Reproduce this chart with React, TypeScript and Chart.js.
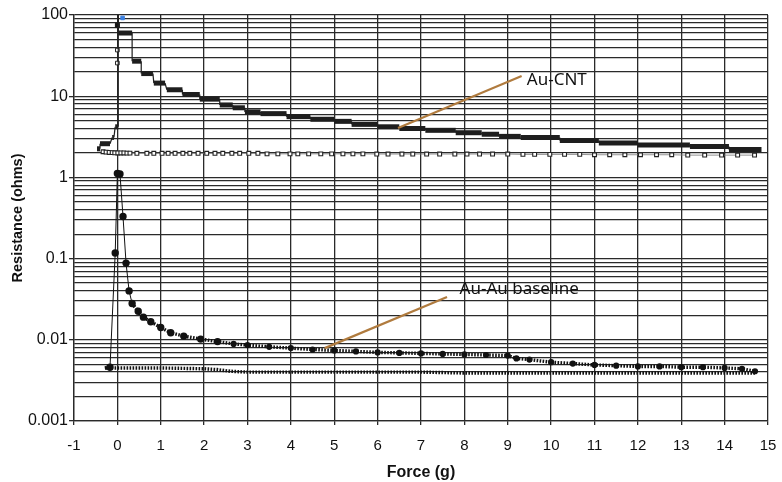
import React, { useEffect, useRef } from 'react';
import { Chart, registerables } from 'chart.js';

Chart.register(...registerables);

// ---------- axes ----------
const xMin = -1;
const xMax = 15;
const yMajorTicks = [0.001, 0.01, 0.1, 1, 10, 100];
const yMinorFactors = [2, 3, 4, 5, 6, 7, 8, 9];

// ---------- Au-CNT loading curve (plateaus: start force, end force, resistance) ----------
const cntStepStart = [-0.47, -0.40, -0.12, -0.05, 0.02, 0.02, 0.34, 0.55, 0.84, 1.14, 1.50, 1.90, 2.36, 2.66, 2.94, 3.30, 3.90, 4.45, 5.00, 5.40, 6.00, 6.50, 7.10, 7.80, 8.40, 8.80, 9.30, 10.20, 11.10, 12.00, 13.20, 14.10];
const cntStepEnd = [-0.40, -0.17, -0.08, 0.02, 0.02, 0.34, 0.55, 0.82, 1.10, 1.50, 1.90, 2.36, 2.66, 2.94, 3.30, 3.90, 4.45, 5.00, 5.40, 6.00, 6.50, 7.10, 7.80, 8.40, 8.80, 9.30, 10.20, 11.10, 12.00, 13.20, 14.10, 14.85];
const cntStepLevel = [2.25, 2.6, 3.1, 4.2, 100, 60, 27, 19, 14.5, 12, 10.5, 9.2, 7.8, 7.2, 6.4, 6.1, 5.6, 5.2, 4.9, 4.5, 4.2, 4.0, 3.8, 3.55, 3.4, 3.2, 3.1, 2.85, 2.65, 2.5, 2.4, 2.2];

// ---------- Au-CNT unloading (hollow squares) ----------
const cntUnloadX = [-0.33, -0.26, -0.19, -0.12, -0.06, 0.01, 0.08, 0.15, 0.22, 0.29,
  0.45, 0.68, 0.84, 1.03, 1.17, 1.33, 1.51, 1.67, 1.86, 2.06, 2.25, 2.43, 2.64, 2.82, 3.03, 3.24,
  3.45, 3.70, 3.98, 4.16, 4.41, 4.69, 4.94, 5.20, 5.43, 5.66, 5.98, 6.24, 6.56, 6.81, 7.13, 7.43, 7.78, 8.06, 8.35, 8.65, 9.00,
  9.35, 9.62, 9.97, 10.31, 10.66, 11.00, 11.35, 11.70, 12.06, 12.43, 12.78, 13.15, 13.54, 13.93, 14.30, 14.69];
const cntUnloadY = [2.07, 2.05, 2.03, 2.02, 2.01, 2.0, 2.0, 2.0, 1.99, 1.99,
  1.98, 1.98, 1.98, 1.98, 1.98, 1.98, 1.98, 1.98, 1.98, 1.98, 1.98, 1.98, 1.98, 1.98, 1.98, 1.98,
  1.95, 1.95, 1.95, 1.95, 1.95, 1.95, 1.95, 1.95, 1.95, 1.95, 1.94, 1.94, 1.94, 1.94, 1.94, 1.94, 1.94, 1.94, 1.94, 1.94, 1.94,
  1.92, 1.92, 1.92, 1.92, 1.92, 1.9, 1.9, 1.9, 1.9, 1.9, 1.9, 1.88, 1.88, 1.88, 1.88, 1.88];

// hollow / filled markers on the vertical jump at zero force
const cntJumpHollowX = [0.0, 0.0];
const cntJumpHollowY = [37, 25.6];
const cntJumpFilledX = [0.0];
const cntJumpFilledY = [75];
const cntPeakBlueX = [0.12];
const cntPeakBlueY = [92];

// ---------- Au-Au baseline loading ----------
const auLoadX = [-0.29, -0.17, -0.05, 0.0, 0.06, 0.13, 0.2, 0.27, 0.34, 0.48, 0.6, 0.77, 1.0, 1.23, 1.53, 1.92, 2.31, 2.68, 3.0, 3.5, 4.0, 4.5, 5.0, 5.5, 6.0, 6.5, 7.0, 7.5, 8.0, 8.5, 9.0, 9.2, 9.5, 10.0, 10.5, 11.0, 11.5, 12.0, 12.5, 13.0, 13.5, 14.0, 14.4, 14.7];
const auLoadY = [0.0045, 0.0046, 0.117, 1.12, 1.1, 0.33, 0.088, 0.04, 0.028, 0.0225, 0.019, 0.0167, 0.0142, 0.0122, 0.0111, 0.0102, 0.0095, 0.0089, 0.0086, 0.0082, 0.0079, 0.0076, 0.0074, 0.0072, 0.0070, 0.0069, 0.0068, 0.0067, 0.0066, 0.0065, 0.0064, 0.0059, 0.0057, 0.0053, 0.0051, 0.0049, 0.0048, 0.0047, 0.0047, 0.0046, 0.0046, 0.0045, 0.0044, 0.0041];

// ---------- Au-Au baseline unloading ----------
const auUnloadX = [14.7, 14.0, 13.0, 12.0, 11.0, 10.0, 9.0, 8.0, 7.0, 6.0, 5.0, 4.0, 3.0, 2.6, 2.3, 2.0, 1.0, 0.0, -0.29];
const auUnloadY = [0.0039, 0.0039, 0.0039, 0.0039, 0.0039, 0.0039, 0.0039, 0.0039, 0.0040, 0.0040, 0.0040, 0.0040, 0.0040, 0.0041, 0.0043, 0.0044, 0.0045, 0.0045, 0.0045];

// ---------- annotations ----------
const annotLabels = ['Au-CNT', 'Au-Au baseline'];
const annotFromX = [6.47, 4.78];
const annotFromY = [4.06, 0.0079];
const annotToX = [9.32, 7.6];
const annotToY = [17.7, 0.0336];
const annotTextX = [9.44, 7.89];
const annotTextY = [15.8, 0.042];

const toPts = (xs: number[], ys: number[]) => xs.map((x, i) => ({ x, y: ys[i] }));

const yGridValues: number[] = [];
yMajorTicks.forEach((m, i) => {
  yGridValues.push(m);
  if (i < yMajorTicks.length - 1) yMinorFactors.forEach((f) => yGridValues.push(parseFloat((m * f).toPrecision(6))));
});

const FONT = '"Liberation Sans", Arial, sans-serif';
const GRID = '#2a2a2a';
const BROWN = '#b07b3e';

const annotationTextPlugin = {
  id: 'annotText',
  afterDatasetsDraw(chart: any) {
    const { ctx, scales } = chart;
    ctx.save();
    ctx.font = '17px "Noto Sans", "Open Sans", sans-serif';
    ctx.fillStyle = '#111';
    ctx.textAlign = 'left';
    ctx.textBaseline = 'middle';
    annotLabels.forEach((t, i) => {
      ctx.fillText(t, scales.x.getPixelForValue(annotTextX[i]), scales.y.getPixelForValue(annotTextY[i]));
    });
    ctx.restore();
  },
};

export default function App() {
  const ref = useRef<HTMLCanvasElement>(null);
  useEffect(() => {
    const stepPts = cntStepStart.flatMap((s, i) => [
      { x: s, y: cntStepLevel[i] },
      { x: cntStepEnd[i], y: cntStepLevel[i] },
    ]);
    const steep = (c: any) => c.p0DataIndex >= 1 && c.p0DataIndex <= 7;
    const chart = new Chart(ref.current as HTMLCanvasElement, {
      type: 'scatter',
      data: {
        datasets: [
          {
            label: 'blue',
            data: toPts(cntPeakBlueX, cntPeakBlueY),
            pointStyle: 'rect',
            pointRadius: 2.5,
            pointBackgroundColor: '#3a7fe0',
            pointBorderColor: '#3a7fe0',
            showLine: false,
          },
          {
            label: 'Au-CNT annot',
            data: [
              { x: annotFromX[0], y: annotFromY[0] },
              { x: annotToX[0], y: annotToY[0] },
            ],
            showLine: true,
            borderColor: BROWN,
            borderWidth: 2.2,
            pointRadius: 0,
          },
          {
            label: 'Au-Au annot',
            data: [
              { x: annotFromX[1], y: annotFromY[1] },
              { x: annotToX[1], y: annotToY[1] },
            ],
            showLine: true,
            borderColor: BROWN,
            borderWidth: 2.2,
            pointRadius: 0,
          },
          {
            label: 'Au-CNT loading',
            data: stepPts,
            showLine: true,
            borderColor: '#1e1e1e',
            borderWidth: 1.2,
            borderCapStyle: 'butt',
            pointRadius: 0,
            segment: {
              borderWidth: (c: any) => (c.p0.parsed.y === c.p1.parsed.y ? 5 : 1.2),
            },
          } as any,
          {
            label: 'jump filled',
            data: toPts(cntJumpFilledX, cntJumpFilledY),
            pointStyle: 'rect',
            pointRadius: 2.8,
            pointBackgroundColor: '#111',
            pointBorderColor: '#111',
            showLine: false,
          },
          {
            label: 'jump hollow',
            data: toPts(cntJumpHollowX, cntJumpHollowY),
            pointStyle: 'rect',
            pointRadius: 2.6,
            pointBackgroundColor: '#fff',
            pointBorderColor: '#222',
            pointBorderWidth: 1,
            showLine: false,
          },
          {
            label: 'Au-CNT unloading',
            data: toPts(cntUnloadX, cntUnloadY),
            showLine: true,
            borderColor: '#777',
            borderWidth: 0.8,
            pointStyle: 'rect',
            pointRadius: 2.7,
            pointBackgroundColor: '#fff',
            pointBorderColor: '#222',
            pointBorderWidth: 1.1,
          },
          {
            label: 'Au-Au loading',
            data: toPts(auLoadX, auLoadY),
            showLine: true,
            borderColor: '#111',
            borderWidth: 3.4,
            borderDash: [1.6, 1.4],
            pointRadius: (c: any) => (c.dataIndex === 0 ? 0 : c.dataIndex <= 16 ? 2 : 1.4),
            pointBackgroundColor: '#111',
            pointBorderColor: '#111',
            segment: {
              borderWidth: (c: any) => (steep(c) ? 1 : 3.4),
              borderDash: (c: any) => (steep(c) ? [] : [1.6, 1.4]),
            },
          } as any,
          {
            label: 'Au-Au unloading',
            data: toPts(auUnloadX, auUnloadY),
            showLine: true,
            borderColor: '#111',
            borderWidth: 3.4,
            borderDash: [1.6, 1.4],
            pointRadius: 0,
          },
        ],
      },
      options: {
        animation: false,
        responsive: false,
        layout: { padding: { top: 15, right: 14, left: 0, bottom: 0 } },
        plugins: { legend: { display: false }, tooltip: { enabled: false } },
        scales: {
          x: {
            type: 'linear',
            min: xMin,
            max: xMax,
            afterFit: (s: any) => { s.height = 61; s.paddingLeft = 0; s.paddingRight = 0; },
            ticks: { stepSize: 1, font: { family: FONT, size: 15 }, color: '#111', padding: 12 },
            grid: { color: GRID, lineWidth: 1.3, tickLength: 4, tickColor: GRID },
            border: { color: GRID, width: 1.3 },
            title: {
              display: true,
              text: 'Force (g)',
              font: { family: FONT, size: 16, weight: 'bold' },
              color: '#111',
              padding: { top: 0, bottom: 0 },
            },
          },
          y: {
            type: 'logarithmic',
            min: 0.001,
            max: 100,
            afterFit: (s: any) => { s.width = 74; s.paddingTop = 0; s.paddingBottom = 0; },
            afterBuildTicks: (s: any) => { s.ticks = yGridValues.map((v) => ({ value: v })); },
            ticks: {
              autoSkip: false,
              font: { family: FONT, size: 16 },
              color: '#111',
              padding: 1,
              callback: (v: any) => (yMajorTicks.includes(Number(v)) ? String(v) : ''),
            },
            grid: {
              color: GRID,
              lineWidth: 1.3,
              tickLength: 5,
              tickColor: (c: any) => (c.tick && yMajorTicks.includes(c.tick.value) ? GRID : 'rgba(0,0,0,0)'),
            },
            border: { color: GRID, width: 1.3 },
            title: {
              display: true,
              text: 'Resistance (ohms)',
              font: { family: FONT, size: 14.5, weight: 'bold' },
              color: '#111',
              padding: { top: 9, bottom: 0 },
            },
          },
        },
      } as any,
      plugins: [annotationTextPlugin],
    });
    return () => chart.destroy();
  }, []);
  return (
    <div style={{ position: 'fixed', left: 0, top: 0, width: 782, height: 482, background: '#fff' }}>
      <canvas ref={ref} width={782} height={482} style={{ width: 782, height: 482, display: 'block' }} />
    </div>
  );
}
